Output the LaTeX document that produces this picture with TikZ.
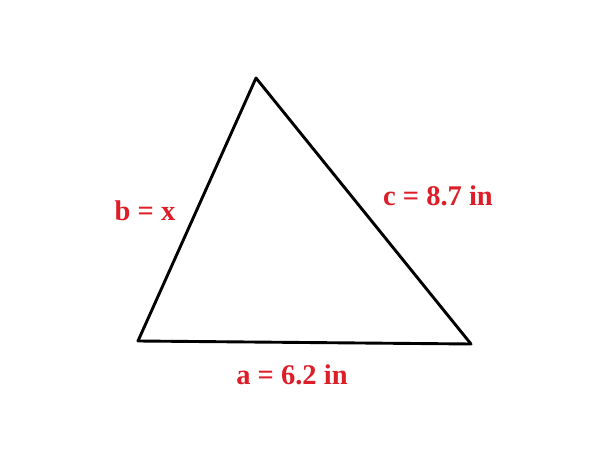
\documentclass[tikz,border=0pt]{standalone}
\usepackage{fontspec}
\setmainfont{Liberation Serif}
\definecolor{lblred}{RGB}{221,30,40}
\begin{document}
\begin{tikzpicture}[x=1pt,y=1pt,
  lbl/.style={text=lblred,font=\fontsize{28.5}{32}\selectfont\bfseries,inner sep=0pt},
  side/.style={line width=2.9pt,line join=round}]
\useasboundingbox (0,0) rectangle (600,450);
\coordinate (A) at (256,372);
\coordinate (B) at (138,109);
\coordinate (C) at (471,106);
\draw[side] (A) -- (B) -- (C) -- cycle;
\node[lbl] (lb) at (145,239) {b = x};
\node[lbl] (lc) at (438,254) {c = 8.7 in};
\node[lbl] (la) at (292,75) {a = 6.2 in};
\end{tikzpicture}
\end{document}
